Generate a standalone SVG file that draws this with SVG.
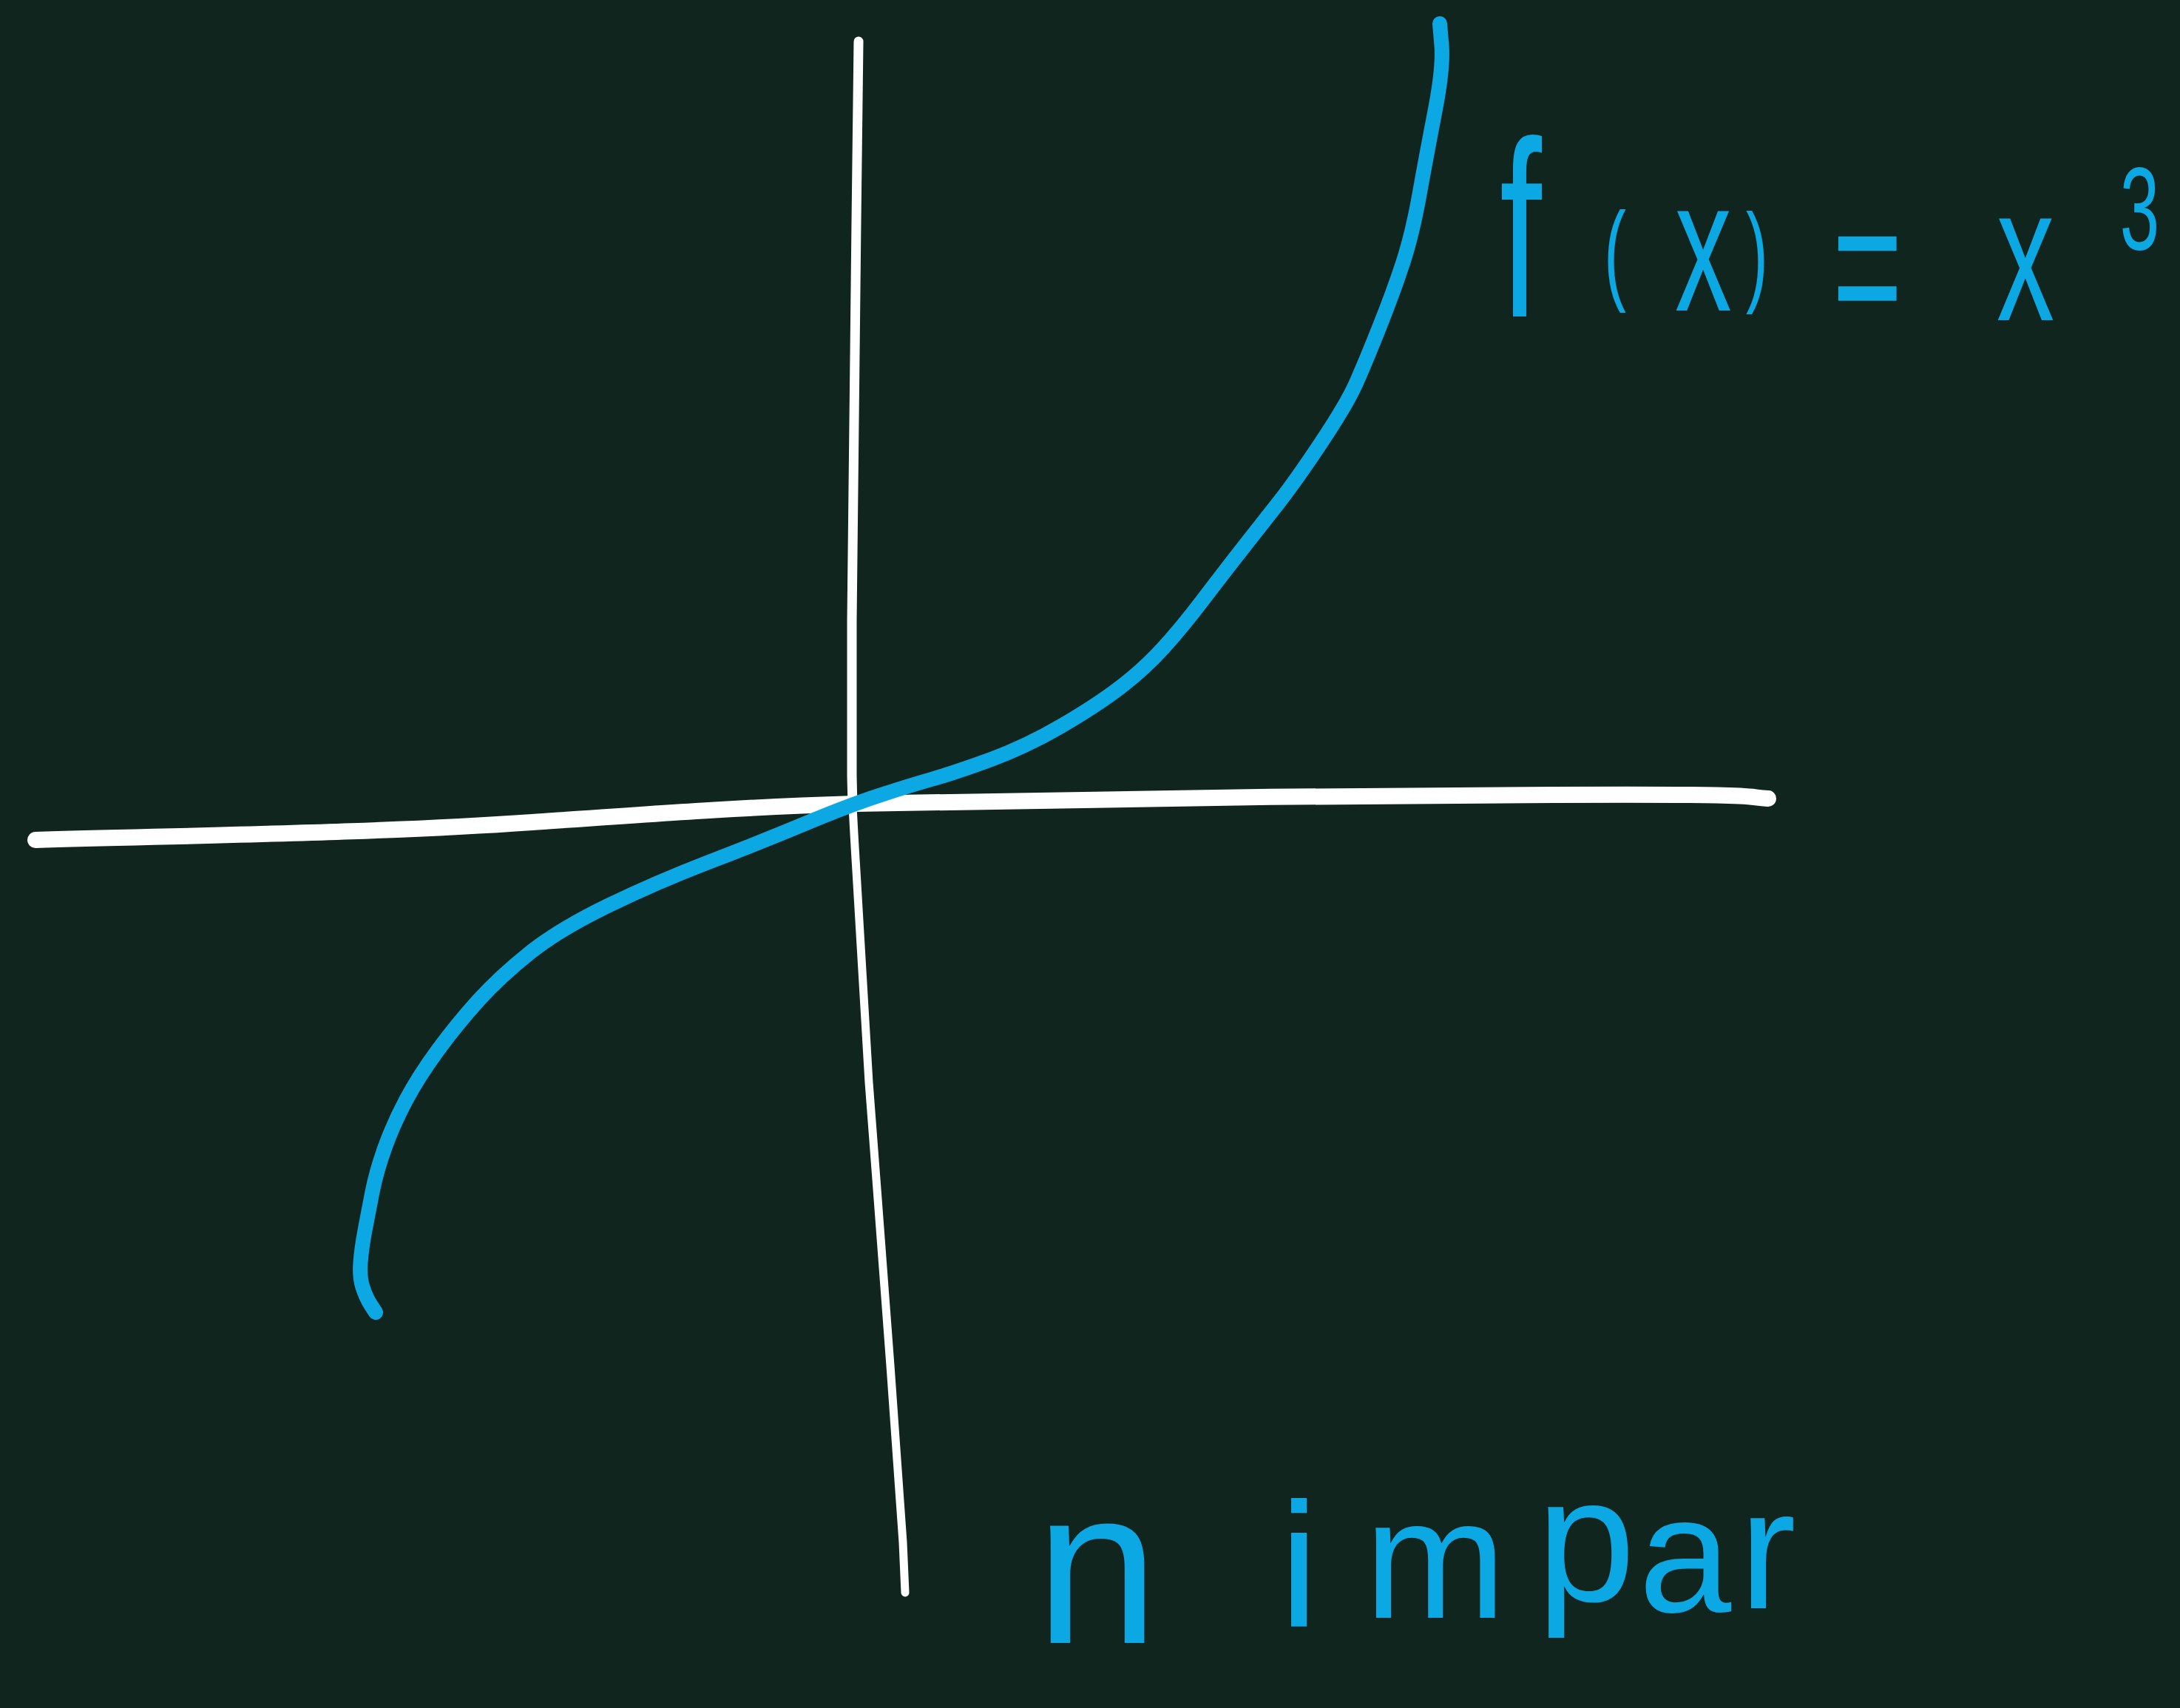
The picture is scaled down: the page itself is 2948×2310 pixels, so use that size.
<svg xmlns="http://www.w3.org/2000/svg" width="2948" height="2310" viewBox="0 0 2948 2310">
<style>
.ax{fill:none;stroke:#ffffff;stroke-linecap:round;stroke-linejoin:round}
.cv{fill:none;stroke:#0ba8e4;stroke-linecap:round;stroke-linejoin:round}
.lbl{fill:#0ba8e4;font-family:"Liberation Sans",Arial,sans-serif}
</style>
<rect x="0" y="0" width="2948" height="2310" fill="#11251f"/>
<g id="axes">
<path class="ax" stroke-width="22" d="M48,1136 C300,1129 520,1126 720,1112 S1000,1092 1156,1087 C1400,1081 1800,1076 2100,1075 S2350,1077 2391,1080"/>
<path class="ax" stroke-width="13" d="M1161,56 L1158,300 L1152,840 L1152,1050 L1153,1090"/>
<path class="ax" stroke-width="11" d="M1153,1090 Q1155,1130 1158,1178 L1175,1464 L1186,1608 L1204,1847 L1221,2086 L1224,2154"/>
</g>
<g id="curve">
<path class="cv" stroke-width="20" d="M508,1775 L501.5,1765 Q495,1755 490.5,1741 Q486,1727 487.5,1707.5 Q489,1688 493.5,1664 Q498,1640 503.5,1612 Q509,1584 520.5,1552 Q532,1520 549,1488 Q566,1456 592,1420.5 Q618,1385 647,1353 Q676,1321 716,1289 Q756,1257 822,1225 Q888,1193 959.5,1165.5 Q1031,1138 1088.5,1114 Q1146,1090 1187,1076.5 Q1228,1063 1259.5,1054 Q1291,1045 1339,1027.5 Q1387,1010 1435,982 Q1483,954 1515,929.5 Q1547,905 1572.5,877 Q1598,849 1625,813.5 Q1652,778 1679,743.5 Q1706,709 1728.5,680.5 Q1751,652 1786,599.5 Q1821,547 1833.5,519 Q1846,491 1865.5,442 Q1885,393 1897.5,354.5 Q1910,316 1919.5,263 Q1929,210 1940.5,150.5 Q1952,91 1949.5,61.5 L1947,32"/>
</g>
<g id="label-function">
<text class="lbl" transform="scale(0.6,1)"><tspan x="3380" y="428" font-size="340">f</tspan><tspan x="3615" y="392" font-size="150">(</tspan><tspan x="3775" y="420" font-size="255">x</tspan><tspan x="3935" y="394" font-size="150">)</tspan><tspan x="4130" y="452" font-size="270">=</tspan><tspan x="4500" y="433" font-size="260">x</tspan><tspan x="4778" y="337" font-size="160">3</tspan></text>
</g>
<g id="label-parity">
<text class="lbl" font-size="220"><tspan x="1400" y="2222" font-size="300">n</tspan><tspan x="1600" y="2195"> </tspan><tspan x="1730" y="2200" font-size="240">i</tspan><tspan x="1845" y="2188" font-size="230">m</tspan><tspan x="2078" y="2165" font-size="240">p</tspan><tspan x="2216" y="2180" font-size="225">a</tspan><tspan x="2352" y="2175" font-size="230">r</tspan></text>
</g>
</svg>
